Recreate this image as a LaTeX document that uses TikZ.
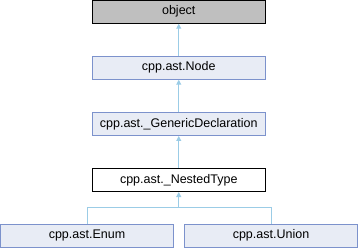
\documentclass[tikz,border=0pt]{standalone}
\usepackage{fontspec}
\setmainfont{Liberation Sans}
\usepackage{xcolor}
\usepackage{tikz}
\usetikzlibrary{arrows.meta}

\definecolor{clsfill}{RGB}{232,236,245}
\definecolor{clsborder}{RGB}{124,146,204}
\definecolor{edgeblue}{RGB}{155,204,230}
\definecolor{basegray}{RGB}{191,191,191}

\begin{document}
\begin{tikzpicture}[x=1pt, y=-1pt,
          cls/.style={draw=#1, minimum width=173pt, minimum height=23pt, inner sep=0pt, font=\fontsize{12.5}{14}\selectfont, line width=1pt},
          cls/.default=clsborder,
          arr/.style={{Triangle[length=5pt, width=5pt]}-, draw=edgeblue, line width=1pt},
          forkline/.style={draw=edgeblue, line width=1pt}
        ]
        \useasboundingbox (0,0) rectangle (358,248);
        \node[cls=black, fill=basegray] (object) at (178.75, 11.75) {object};
        \node[cls, fill=clsfill] (node) at (178.75, 67.75) {cpp.ast.Node};
        \node[cls, fill=clsfill] (generic) at (178.75, 124) {cpp.ast.\_GenericDeclaration};
        \node[cls=black, fill=white] (nested) at (178.75, 180) {cpp.ast.\_NestedType};
        \node[cls, fill=clsfill] (enum) at (87, 235.75) {cpp.ast.Enum};
        \node[cls, fill=clsfill] (union) at (271, 235.75) {cpp.ast.Union};
        \coordinate (split) at (178.75, 207.5);
        \draw[arr] (object.south) -- (node.north);
        \draw[arr] (node.south) -- (generic.north);
        \draw[arr] (generic.south) -- (nested.north);
        \draw[arr] (nested.south) -- (split);
        \draw[forkline] (enum.north) |- (split) -| (union.north);
        \end{tikzpicture}
\end{document}
